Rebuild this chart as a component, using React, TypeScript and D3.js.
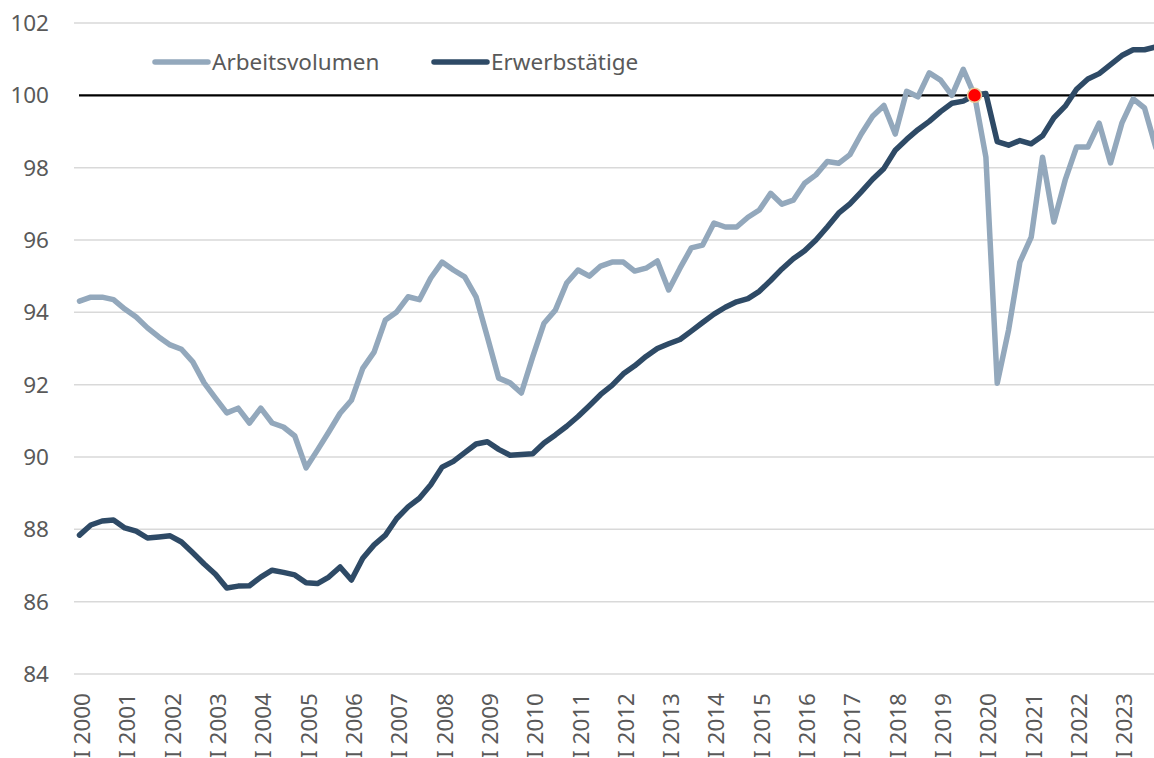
import * as d3 from 'd3';

const years = d3.range(2000, 2024).map(y => `I ${y}`);

const arbeitsvolumen = [
  94.31, 94.42, 94.42, 94.35, 94.09, 93.87, 93.57, 93.32,
  93.10, 92.98, 92.63, 92.05, 91.63, 91.22, 91.35, 90.94,
  91.35, 90.94, 90.83, 90.58, 89.70, 90.19, 90.69, 91.21,
  91.57, 92.45, 92.90, 93.79, 94.01, 94.43, 94.35, 94.95,
  95.39, 95.17, 94.98, 94.43, 93.32, 92.18, 92.05, 91.77,
  92.77, 93.70, 94.06, 94.81, 95.17, 95.00, 95.28, 95.39,
  95.39, 95.14, 95.22, 95.42, 94.62, 95.22, 95.78, 95.86,
  96.47, 96.36, 96.36, 96.63, 96.83, 97.29, 96.99, 97.10,
  97.57, 97.80, 98.17, 98.12, 98.36, 98.93, 99.42, 99.72,
  98.93, 100.11, 99.96, 100.62, 100.42, 100.0, 100.72, 100.0,
  98.29, 92.04, 93.51, 95.39, 96.08, 98.29, 96.50, 97.66,
  98.57, 98.57, 99.23, 98.13, 99.23, 99.90, 99.65, 98.55,
];

const erwerbstaetige = [
  87.84, 88.12, 88.23, 88.26, 88.04, 87.95, 87.76, 87.79,
  87.82, 87.65, 87.35, 87.04, 86.76, 86.38, 86.43, 86.44,
  86.68, 86.87, 86.81, 86.74, 86.52, 86.50, 86.68, 86.96,
  86.60, 87.20, 87.57, 87.84, 88.30, 88.62, 88.86, 89.23,
  89.72, 89.88, 90.12, 90.36, 90.42, 90.21, 90.05, 90.07,
  90.09, 90.39, 90.61, 90.85, 91.12, 91.42, 91.73, 91.98,
  92.30, 92.52, 92.78, 93.00, 93.13, 93.25, 93.48, 93.72,
  93.95, 94.14, 94.29, 94.38, 94.58, 94.88, 95.20, 95.48,
  95.70, 96.00, 96.36, 96.74, 97.00, 97.33, 97.68, 97.98,
  98.48, 98.78, 99.05, 99.28, 99.55, 99.78, 99.84, 100.0,
  100.05, 98.72, 98.62, 98.75, 98.66, 98.88, 99.38, 99.70,
  100.17, 100.45, 100.60, 100.85, 101.10, 101.26, 101.26, 101.34,
];

const yTicks = [84, 86, 88, 90, 92, 94, 96, 98, 100, 102];
const baseIndex = 79; // IV 2019 = 100

const W = 1154, H = 758;
const LIGHT = '#93a8bc';
const DARK = '#2e4a66';
const FONT = '"Noto Sans", "Open Sans", sans-serif';

export default function App() {
  const x = d3.scaleLinear().domain([0, 95]).range([79.5, 79.5 + 95 * 11.33]);
  const y = d3.scaleLinear().domain([84, 102]).range([674, 23]);
  const line = d3.line<number>().x((_, i) => x(i)).y(d => y(d));

  return (
    <div style={{ position: 'fixed', left: 0, top: 0, background: '#fff' }}>
      <svg width={W} height={H} style={{ display: 'block' }}>
        {yTicks.map(t => (
          <g key={t}>
            {t !== 100 && (
              <line x1={74} x2={W} y1={y(t)} y2={y(t)} stroke="#d9d9d9" strokeWidth={1.5} />
            )}
            <text x={49} y={y(t)} dy="0.35em" textAnchor="end" fill="#595959"
              fontFamily={FONT} fontSize={22.5}>{t}</text>
          </g>
        ))}
        <line x1={79} x2={W} y1={y(100)} y2={y(100)} stroke="#000" strokeWidth={2.2} />

        {years.map((lab, k) => (
          <text key={lab} transform={`translate(${x(k * 4) + 2},693) rotate(-90)`}
            textAnchor="end" dominantBaseline="central" fill="#595959"
            fontFamily={FONT} fontSize={22.5}>{lab}</text>
        ))}

        <path d={line(arbeitsvolumen) ?? ''} fill="none" stroke={LIGHT} strokeWidth={5.5}
          strokeLinejoin="round" strokeLinecap="round" />
        <path d={line(erwerbstaetige) ?? ''} fill="none" stroke={DARK} strokeWidth={5.5}
          strokeLinejoin="round" strokeLinecap="round" />

        <circle cx={x(baseIndex)} cy={y(erwerbstaetige[baseIndex])} r={7}
          fill="#ff0000" stroke="#e6c999" strokeWidth={1.5} />

        {/* legend */}
        <line x1={155} x2={208} y1={62} y2={62} stroke={LIGHT} strokeWidth={5.5} strokeLinecap="round" />
        <text x={212} y={62} dy="0.35em" fill="#595959" fontFamily={FONT} fontSize={22.5}>Arbeitsvolumen</text>
        <line x1={434} x2={487} y1={62} y2={62} stroke={DARK} strokeWidth={5.5} strokeLinecap="round" />
        <text x={491} y={62} dy="0.35em" fill="#595959" fontFamily={FONT} fontSize={22.5}>Erwerbstätige</text>
      </svg>
    </div>
  );
}
